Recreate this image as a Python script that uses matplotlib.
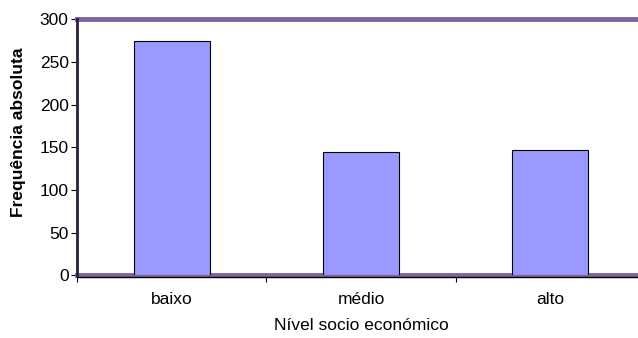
import matplotlib
matplotlib.use("Agg")
import matplotlib.pyplot as plt
import numpy as np

plt.rcParams['font.family'] = ['Liberation Sans', 'DejaVu Sans']

# dados
categorias = ["baixo", "médio", "alto"]
frequencias = [275, 145, 147]
y_ticks = [0, 50, 100, 150, 200, 250, 300]

roxo = "#8064A2"
barra = "#9999FF"

fig = plt.figure(figsize=(6.38, 3.38), dpi=100)
# eixo vai um pouco para alem da borda direita, como no original
ax = fig.add_axes([77/638, (338-275.3)/338, 568/638, 256/338])

x = np.arange(len(categorias))
ax.bar(x, frequencias, width=0.4, color=barra, edgecolor="black", linewidth=0.8, zorder=3)

ax.set_xlim(-0.5, 2.5)
ax.set_ylim(0, 300)

# moldura da area do grafico
ax.axhline(300, color=roxo, linewidth=3.5, zorder=2, clip_on=False)
ax.axhline(0, color=roxo, linewidth=3.5, zorder=2, clip_on=False)
for s in ["top", "right", "bottom"]:
    ax.spines[s].set_visible(False)
ax.spines["left"].set_color("#2a1f38")
ax.spines["left"].set_linewidth(2)
ax.plot([-0.5, 2.5], [-1.5, -1.5], color="black", linewidth=1, zorder=4, clip_on=False)

ax.set_yticks(y_ticks)
ax.tick_params(axis="y", direction="out", length=4, width=0.8, labelsize=12.5, pad=2)

# ticks nas fronteiras, rotulos no centro
ax.set_xticks(x)
ax.set_xticklabels(categorias, fontsize=12.5)
ax.tick_params(axis="x", length=0, pad=12)
ax.set_xticks([-0.5, 0.5, 1.5], minor=True)
ax.tick_params(axis="x", which="minor", direction="out", length=5, width=0.8)

ax.set_xlabel("Nível socio económico", fontsize=12.5, labelpad=8)
ax.set_ylabel("Frequência absoluta", fontsize=12.5, fontweight="bold")
ax.yaxis.set_label_coords(-0.089, 0.558)

fig.savefig("out.png", dpi=100)
